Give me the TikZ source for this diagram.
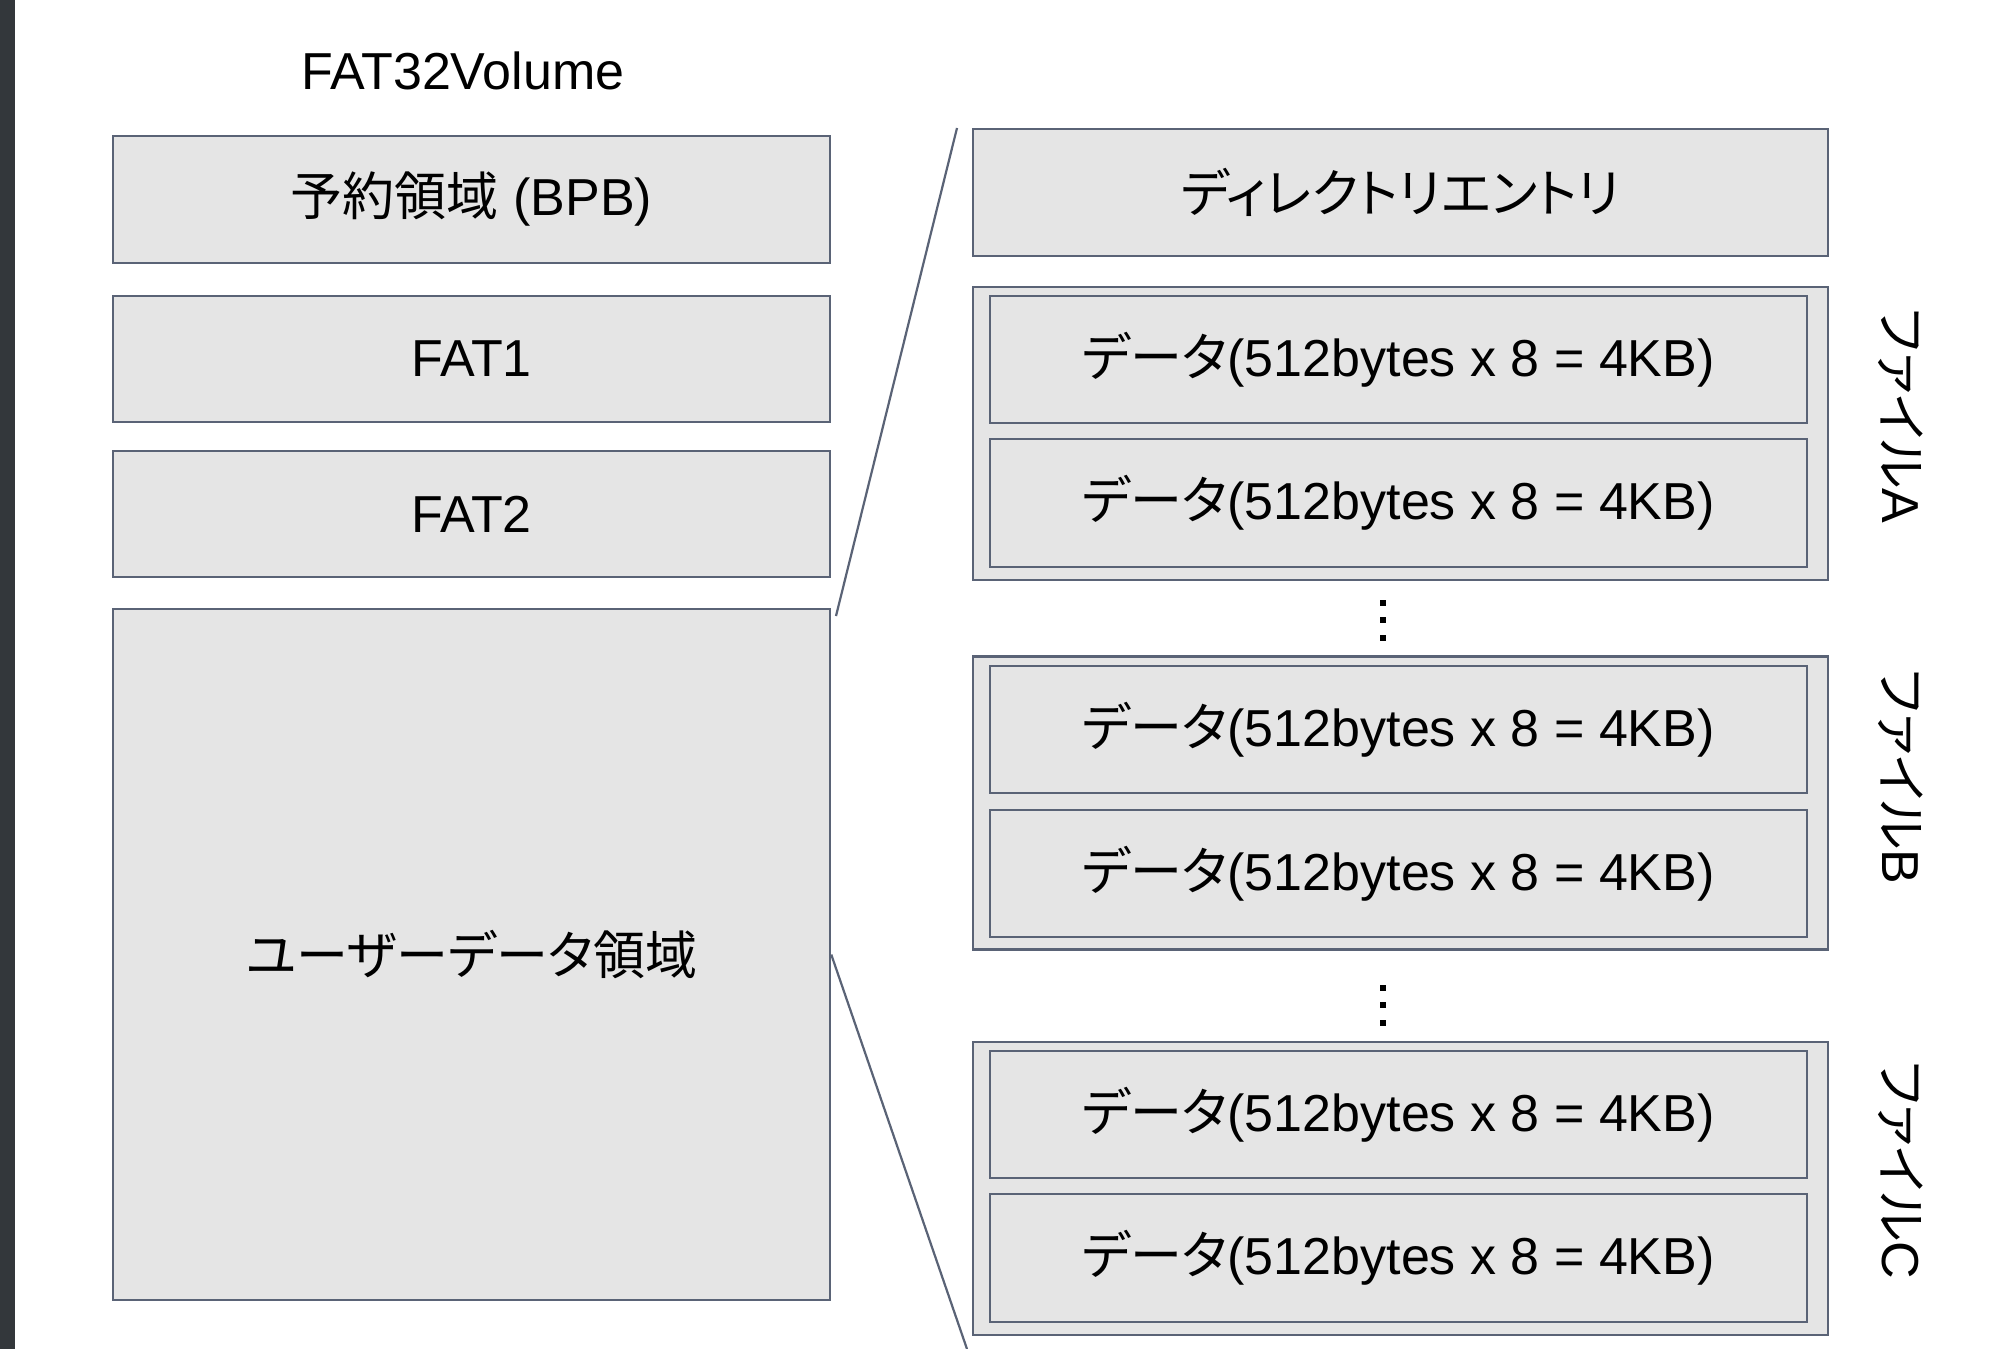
\documentclass[tikz,border=0pt]{standalone}
\usepackage{fontspec}
\setmainfont{Liberation Sans}
\newfontfamily\jp[RawFeature={+palt}]{Noto Sans CJK JP}
\definecolor{boxfill}{RGB}{229,229,229}
\definecolor{boxline}{RGB}{90,99,118}
\definecolor{sidebar}{RGB}{51,55,59}
\begin{document}
\begin{tikzpicture}[x=1pt,y=-1pt,
  box/.style={draw=boxline,fill=boxfill,line width=2.5pt,rectangle,inner sep=0pt,
    font=\fontsize{52}{60}\selectfont,text=black},
  lbl/.style={font=\fontsize{52}{60}\selectfont,text=black,inner sep=0pt},
  conn/.style={draw=boxline,line width=2.2pt},
  dotmark/.style={fill=black,minimum size=6pt,inner sep=0pt,rectangle}]
\useasboundingbox (0,0) rectangle (1990,1349);
\fill[white] (0,0) rectangle (1990,1349);
\fill[sidebar] (0,0) rectangle (15,1349);

% title
\node[lbl] (title) at (463,71) {FAT32Volume};

% left column
\node[box,minimum width=717pt,minimum height=127pt] (bpb) at (471.5,199.5) {\jp 予約領域\rmfamily{} (BPB)};
\node[box,minimum width=717pt,minimum height=126pt] (fat1) at (471.5,359) {FAT1};
\node[box,minimum width=717pt,minimum height=126pt] (fat2) at (471.5,514) {FAT2};
\node[box,minimum width=717pt,minimum height=691pt] (ud) at (471.5,954.5) {\jp ユーザーデータ領域};

% right column
\node[box,minimum width=855pt,minimum height=127pt] (dir) at (1400.5,192.5) {\jp ディレクトリエントリ};

\node[box,minimum width=855pt,minimum height=293pt] (fa) at (1400.5,433.5) {};
\node[box,minimum width=817pt,minimum height=127pt] (fa1) at (1398.5,359.5) {{\jp データ}(512bytes x 8 = 4KB)};
\node[box,minimum width=817pt,minimum height=128pt] (fa2) at (1398.5,503) {{\jp データ}(512bytes x 8 = 4KB)};

\node[box,minimum width=855pt,minimum height=293pt] (fb) at (1400.5,803) {};
\node[box,minimum width=817pt,minimum height=127pt] (fb1) at (1398.5,729.5) {{\jp データ}(512bytes x 8 = 4KB)};
\node[box,minimum width=817pt,minimum height=127pt] (fb2) at (1398.5,873.5) {{\jp データ}(512bytes x 8 = 4KB)};

\node[box,minimum width=855pt,minimum height=293pt] (fc) at (1400.5,1188.5) {};
\node[box,minimum width=817pt,minimum height=127pt] (fc1) at (1398.5,1114.5) {{\jp データ}(512bytes x 8 = 4KB)};
\node[box,minimum width=817pt,minimum height=128pt] (fc2) at (1398.5,1258) {{\jp データ}(512bytes x 8 = 4KB)};

% vertical labels
\node[lbl,rotate=-90] (la) at (1901,416) {{\jp ファイル}A};
\node[lbl,rotate=-90] (lb) at (1901,777) {{\jp ファイル}B};
\node[lbl,rotate=-90] (lc) at (1901,1170) {{\jp ファイル}C};

% ellipsis dots
\node[dotmark] (d1a) at (1383,603) {};
\node[dotmark] (d1b) at (1383,620) {};
\node[dotmark] (d1c) at (1383,638) {};
\node[dotmark] (d2a) at (1383,988) {};
\node[dotmark] (d2b) at (1383,1005) {};
\node[dotmark] (d2c) at (1383,1023) {};

% connectors
\coordinate (udtop) at (836,616);
\coordinate (dirtop) at (957,128);
\coordinate (cbot) at (967,1349);
\draw[conn] (udtop) -- (dirtop);
\draw[conn] (ud.east) -- (cbot);
\end{tikzpicture}
\end{document}
